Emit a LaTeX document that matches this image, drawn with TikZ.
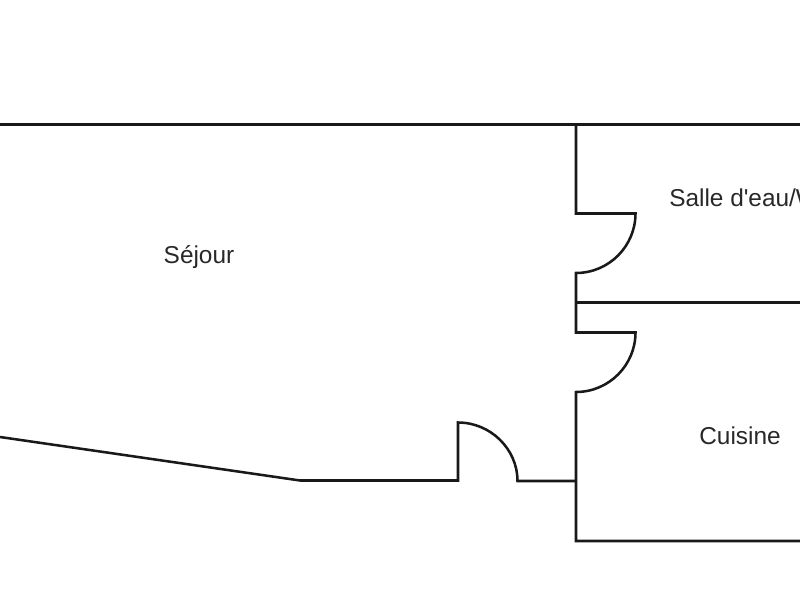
\documentclass[tikz,border=0pt]{standalone}
\usepackage{fontspec}
\newfontfamily\roomfont{Liberation Sans}
\usetikzlibrary{positioning}
\tikzset{wall/.style={line width=1.9pt,color={rgb, 255:red, 25; green, 25; blue, 25},line join=miter},
    roomlabel/.style={inner sep=0.75pt,font=\roomfont\fontsize{18.3}{20}\selectfont,color={rgb, 255:red, 40; green, 40; blue, 40}}}
\begin{document}
\begin{tikzpicture}[x=0.75pt,y=0.75pt,yscale=-1,xscale=1]
        \useasboundingbox (0,0) rectangle (800,600);
        %Straight Lines: top wall
        \draw [wall]   (0,124.5) -- (800,124.5) ;
        %Shape: wall with the two doors on the right
        \draw [wall]   (576,124.5) -- (576,213.5) -- (635.5,213.5) .. controls (635.5,246) and (609,273) .. (576,273)
            -- (576,332.5) -- (635.5,332.5) .. controls (635.5,365) and (609,392) .. (576,392) -- (576,541) -- (800,541) ;
        %Straight Lines: between the two rooms
        \draw [wall]   (576,302.5) -- (800,302.5) ;
        %Shape: lower wall with the door
        \draw [wall]   (0,437) -- (300,480.5) -- (458,480.5) -- (458,422.5) .. controls (490.5,422.5) and (517.5,449) .. (517.5,481)
            -- (576,481) ;
        % Text Node
        \node (sejour) [roomlabel] at (199,257.5) {Séjour};
        % Text Node
        \node (salle) [roomlabel,anchor=west] at (668,197.5) {Salle d'eau/W};
        % Text Node
        \node (cuisine) [roomlabel] at (740,436) {Cuisine};
        \end{tikzpicture}
\end{document}
